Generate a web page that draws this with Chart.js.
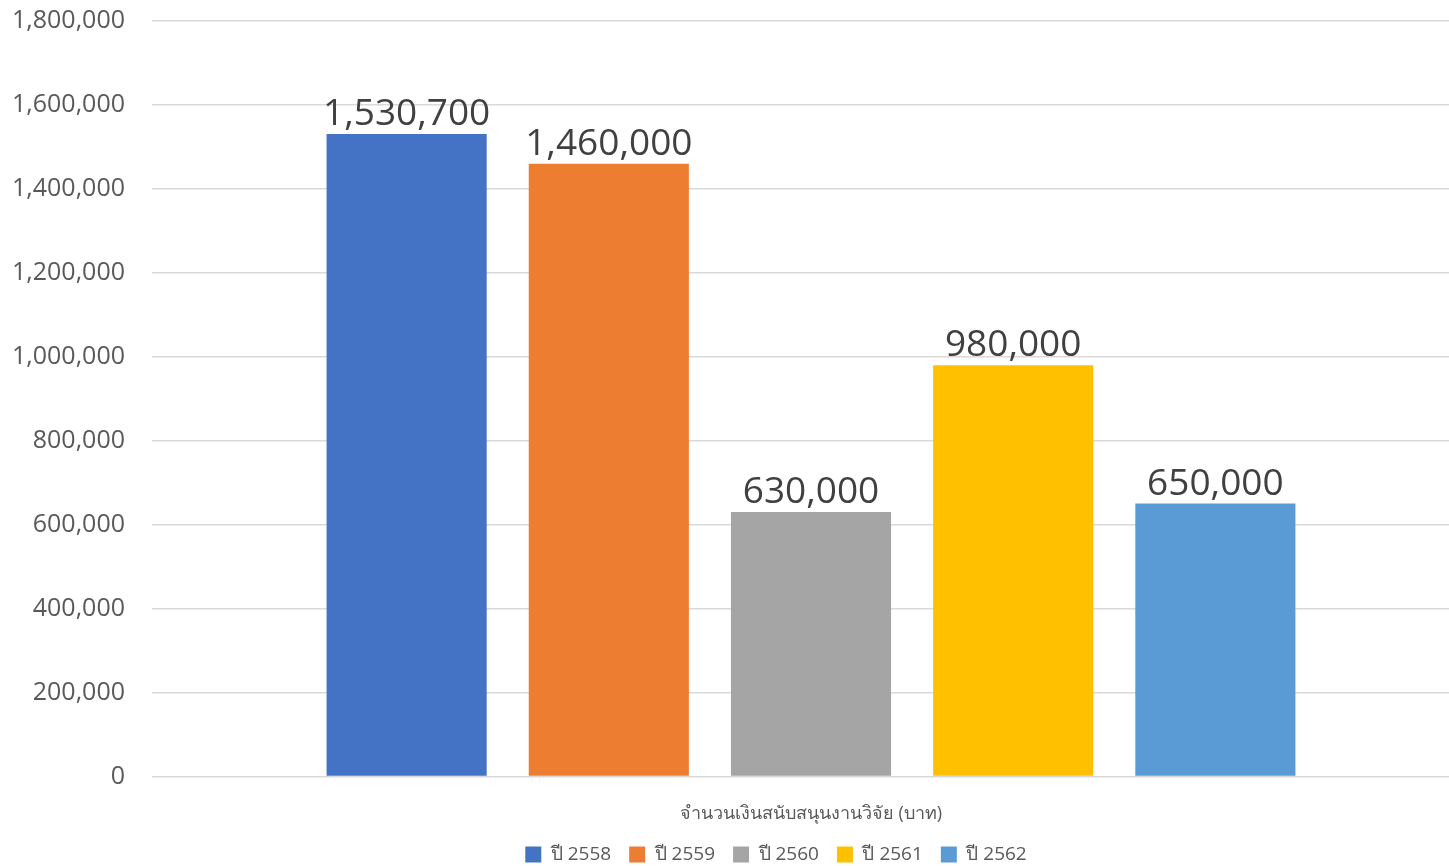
<!DOCTYPE html>
<html>
<head>
<meta charset="utf-8">
<script src="https://cdn.jsdelivr.net/npm/chart.js@4"></script>
<style>
  html, body { margin: 0; padding: 0; background: #fff; overflow: hidden; }
  #wrap { width: 1470px; height: 895px; margin-top: -21px; }
</style>
</head>
<body>
<div id="wrap"><canvas id="chart"></canvas></div>
<script>
// Data
const categories = ['จำนวนเงินสนับสนุนงานวิจัย (บาท)'];
const years = ['ปี 2558', 'ปี 2559', 'ปี 2560', 'ปี 2561', 'ปี 2562'];
const amounts = [1530700, 1460000, 630000, 980000, 650000];
const colors = ['#4472C4', '#ED7D31', '#A5A5A5', '#FFC000', '#5B9BD5'];
const yTicks = [0, 200000, 400000, 600000, 800000, 1000000, 1200000, 1400000, 1600000, 1800000];

const FONT = "'Open Sans', 'Noto Sans', 'DejaVu Sans', sans-serif";

// value labels above each bar
const valueLabels = {
  id: 'valueLabels',
  afterDatasetsDraw(chart) {
    const ctx = chart.ctx;
    ctx.save();
    ctx.font = '37px ' + FONT;
    ctx.fillStyle = '#404040';
    ctx.textAlign = 'center';
    ctx.textBaseline = 'bottom';
    chart.data.datasets.forEach((ds, i) => {
      chart.getDatasetMeta(i).data.forEach((bar, j) => {
        ctx.fillText(ds.data[j].toLocaleString('en-US'), bar.x, bar.y - 1);
      });
    });
    ctx.restore();
  }
};

// Excel puts the legend a bit left of the plot centre
const legendShift = {
  id: 'legendShift',
  beforeDraw(chart) {
    const lg = chart.legend, ca = chart.chartArea;
    const dx = (ca.left + ca.right) / 2 - 35 - (lg.left + lg.right) / 2;
    lg.left += dx;
    lg.right += dx;
  }
};

new Chart(document.getElementById('chart'), {
  type: 'bar',
  data: {
    labels: categories,
    datasets: years.map((y, i) => ({
      label: y,
      data: [amounts[i]],
      backgroundColor: colors[i],
      categoryPercentage: 0.767,
      barPercentage: 0.792
    }))
  },
  options: {
    responsive: true,
    maintainAspectRatio: false,
    animation: false,
    layout: { padding: { top: 0, left: 12, right: 0, bottom: 0 } },
    plugins: {
      legend: {
        position: 'bottom',
        labels: {
          boxWidth: 16, boxHeight: 16, padding: 18,
          color: '#595959',
          font: { family: FONT, size: 19 }
        }
      },
      tooltip: { enabled: false }
    },
    scales: {
      x: {
        grid: { display: false },
        border: { display: false },
        ticks: { color: '#595959', font: { family: FONT, size: 18 }, padding: 19 },
        afterFit(axis) { axis.height -= 17; }
      },
      y: {
        min: 0, max: 1800000,
        afterBuildTicks(axis) { axis.ticks = yTicks.map(v => ({ value: v })); },
        afterFit(axis) { axis.width = 140; },
        grid: { color: '#D9D9D9', lineWidth: 1.5, drawTicks: false },
        border: { display: false },
        ticks: {
          color: '#595959',
          padding: 27,
          font: { family: FONT, size: 25 },
          callback: v => v.toLocaleString('en-US')
        }
      }
    }
  },
  plugins: [valueLabels, legendShift]
});
</script>
</body>
</html>
